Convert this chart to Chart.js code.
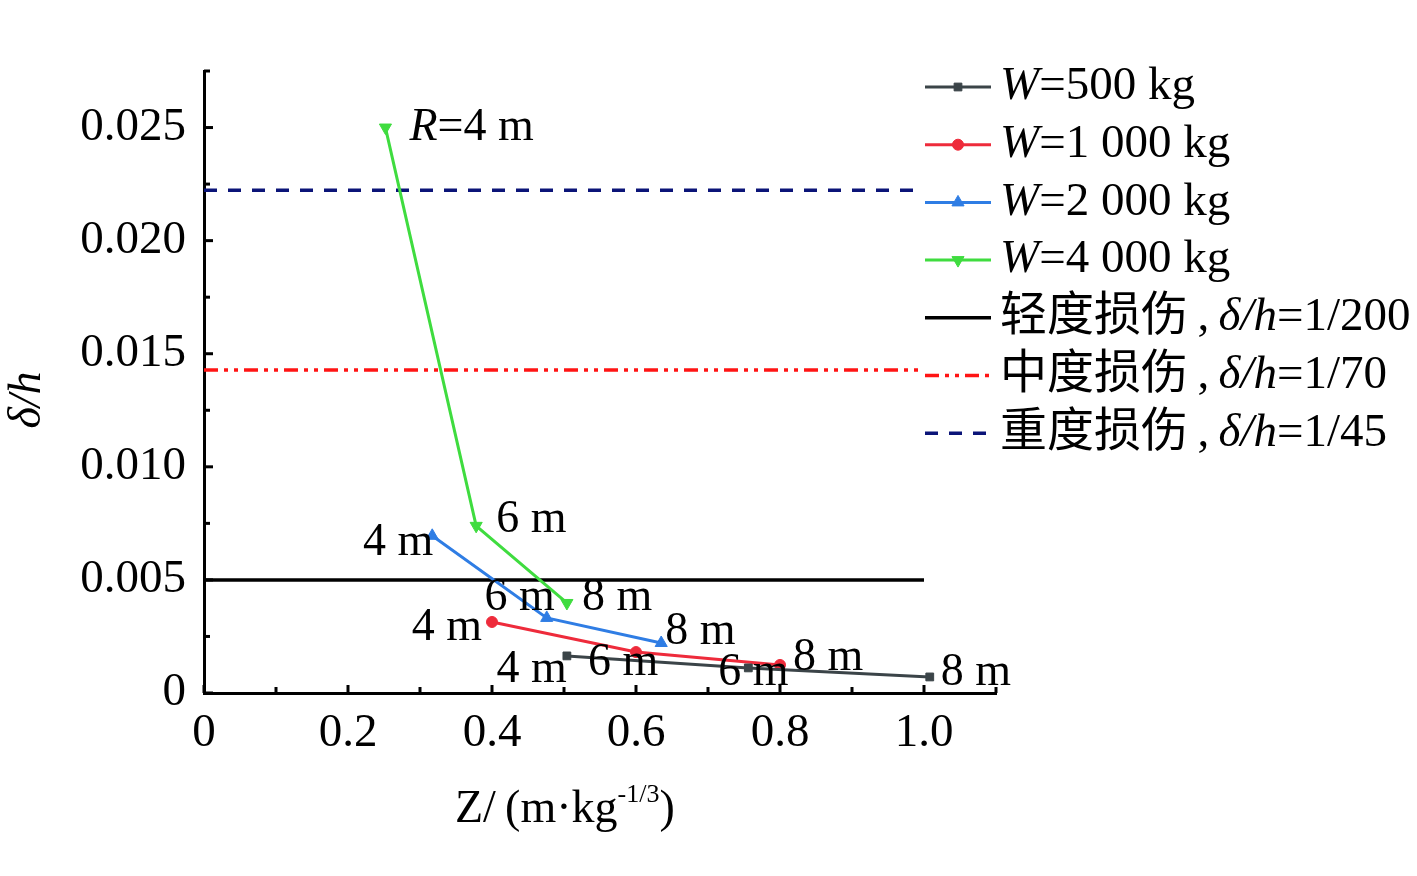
<!DOCTYPE html>
<html>
<head>
<meta charset="utf-8">
<script src="https://cdn.jsdelivr.net/npm/chart.js@4/dist/chart.umd.min.js"></script>
<style>
  body { margin: 0; background: #fff; }
  canvas { display: block; }
</style>
</head>
<body>
<canvas id="chart" width="1417" height="876"></canvas>
<script>
// Données : Z (m·kg^-1/3) et δ/h pour R = 4, 6, 8 m
const z500 = [0.504, 0.756, 1.008];
const d500 = [0.00164, 0.00111, 0.00071];
const z1000 = [0.400, 0.600, 0.800];
const d1000 = [0.00314, 0.00181, 0.00124];
const z2000 = [0.317, 0.476, 0.635];
const d2000 = [0.00695, 0.00332, 0.00221];
const z4000 = [0.252, 0.378, 0.504];
const d4000 = [0.0250, 0.00739, 0.00398];

// Seuils de dommage
const seuilLeger = 1 / 200;
const seuilMoyen = 1 / 70;
const seuilGrave = 1 / 45;
const seuilZ = [0, 1.0];

// Étiquettes des points
const distances = ['4 m', '6 m', '8 m'];
const distances4000 = ['R=4 m', '6 m', '8 m'];

// Graduations
const xTickLabels = ['0', '0.2', '0.4', '0.6', '0.8', '1.0'];
const yTickLabels = ['0', '0.005', '0.010', '0.015', '0.020', '0.025'];

const SERIF = '"Liberation Serif", "Times New Roman", "Noto Sans CJK SC", serif';
const FS = 46;

function pts(xs, ys) {
    return xs.map((x, i) => ({ x: x, y: ys[i] }));
}

// Décalages des étiquettes (dx, dy, alignement) par série
const labelPlacement = [
    [[0, 14, 'right'], [-30, 5, 'left'], [11, -4, 'left']],
    [[-10, 6, 'right'], [-48, 11, 'left'], [13, -7, 'left']],
    [[1, 7, 'right'], [8, -20, 'right'], [4, -11, 'left']],
    [[24, 0, 'left'], [20, -6, 'left'], [15, -5, 'left']]
];
const seriesLabels = [distances, distances, distances, distances4000];

const legendParts = [
    [{ t: 'W', i: true }, { t: '=500 kg' }],
    [{ t: 'W', i: true }, { t: '=1 000 kg' }],
    [{ t: 'W', i: true }, { t: '=2 000 kg' }],
    [{ t: 'W', i: true }, { t: '=4 000 kg' }],
    [{ t: '轻度损伤' }, { t: '\u2009,\u2009' }, { t: 'δ/h', i: true }, { t: '=1/200' }],
    [{ t: '中度损伤' }, { t: '\u2009,\u2009' }, { t: 'δ/h', i: true }, { t: '=1/70' }],
    [{ t: '重度损伤' }, { t: '\u2009,\u2009' }, { t: 'δ/h', i: true }, { t: '=1/45' }]
];

function drawRich(ctx, parts, x, y, size) {
    let cx = x;
    parts.forEach(p => {
        ctx.font = (p.i ? 'italic ' : '') + size + 'px ' + SERIF;
        ctx.fillText(p.t, cx, y);
        cx += ctx.measureText(p.t).width;
    });
    return cx;
}

function drawMarker(ctx, ds, x, y) {
    if (!ds.pointStyle || ds.pointRadius === 0) return;
    ctx.save();
    ctx.fillStyle = ds.borderColor;
    ctx.strokeStyle = ds.borderColor;
    ctx.lineWidth = 1;
    ctx.setLineDash([]);
    Chart.helpers.drawPoint(ctx, {
        pointStyle: ds.pointStyle,
        rotation: ds.pointRotation || 0,
        radius: ds.pointRadius,
        borderWidth: 1
    }, x, y);
    ctx.restore();
}

const customDraw = {
    id: 'customDraw',
    afterDatasetsDraw(chart) {
        const ctx = chart.ctx;
        const xs = chart.scales.x;
        const ys = chart.scales.y;
        const area = chart.chartArea;

        // Graduations intérieures
        ctx.save();
        ctx.strokeStyle = '#000';
        ctx.lineWidth = 3;
        xs.ticks.forEach(t => {
            const px = xs.getPixelForValue(t.value);
            const major = Math.abs(Math.round(t.value / 0.1) % 2) === 0;
            ctx.beginPath();
            ctx.moveTo(px, area.bottom);
            ctx.lineTo(px, area.bottom - (major ? 8 : 6));
            ctx.stroke();
        });
        ys.ticks.forEach(t => {
            const py = ys.getPixelForValue(t.value);
            const major = Math.round(t.value / 0.0025) % 2 === 0;
            ctx.beginPath();
            ctx.moveTo(area.left, py);
            ctx.lineTo(area.left + (major ? 9 : 6), py);
            ctx.stroke();
        });
        ctx.restore();

        // Étiquettes des points
        ctx.save();
        ctx.fillStyle = '#000';
        ctx.textBaseline = 'middle';
        seriesLabels.forEach((labels, i) => {
            const meta = chart.getDatasetMeta(i);
            meta.data.forEach((el, j) => {
                const [dx, dy, align] = labelPlacement[i][j];
                const txt = labels[j];
                if (txt.startsWith('R=')) {
                    drawRich(ctx, [{ t: 'R', i: true }, { t: txt.slice(1) }], el.x + dx, el.y + dy, FS);
                } else {
                    ctx.font = FS + 'px ' + SERIF;
                    ctx.textAlign = align;
                    ctx.fillText(txt, el.x + dx, el.y + dy);
                    ctx.textAlign = 'left';
                }
            });
        });
        ctx.restore();

        // Légende
        ctx.save();
        ctx.textBaseline = 'middle';
        ctx.fillStyle = '#000';
        chart.data.datasets.forEach((ds, i) => {
            const y = 87 + i * 57.7;
            ctx.save();
            ctx.strokeStyle = ds.borderColor;
            ctx.lineWidth = ds.borderWidth;
            ctx.setLineDash(ds.borderDash || []);
            ctx.beginPath();
            ctx.moveTo(925, y);
            ctx.lineTo(991, y);
            ctx.stroke();
            ctx.restore();
            drawMarker(ctx, ds, 958, y);
            drawRich(ctx, legendParts[i], 1000, y, 47);
        });
        ctx.restore();

        // Titres des axes
        ctx.save();
        ctx.fillStyle = '#000';
        ctx.textBaseline = 'alphabetic';
        let cx = 455;
        const base = 822;
        ctx.font = FS + 'px ' + SERIF;
        ctx.fillText('Z/\u2009(m·kg', cx, base);
        cx += ctx.measureText('Z/\u2009(m·kg').width;
        ctx.font = '26px ' + SERIF;
        ctx.fillText('-1/3', cx, base - 20);
        cx += ctx.measureText('-1/3').width;
        ctx.font = FS + 'px ' + SERIF;
        ctx.fillText(')', cx, base);

        ctx.translate(28, 400);
        ctx.rotate(-Math.PI / 2);
        ctx.textAlign = 'center';
        ctx.textBaseline = 'middle';
        ctx.font = 'italic ' + FS + 'px ' + SERIF;
        ctx.fillText('δ/h', 0, 0);
        ctx.restore();
    }
};

function serie(data, color, style, rotation, radius) {
    return {
        data: data,
        borderColor: color,
        backgroundColor: color,
        borderWidth: 3,
        pointStyle: style,
        pointRotation: rotation,
        pointRadius: radius,
        pointHoverRadius: radius,
        pointBorderWidth: 1,
        showLine: true,
        tension: 0
    };
}

function seuil(value, color, dash, width) {
    return {
        data: pts(seuilZ, [value, value]),
        borderColor: color,
        backgroundColor: color,
        borderWidth: width,
        borderDash: dash,
        pointRadius: 0,
        pointStyle: false,
        showLine: true
    };
}

new Chart(document.getElementById('chart'), {
    type: 'scatter',
    data: {
        datasets: [
            serie(pts(z500, d500), '#3b4448', 'rect', 0, 5.5),
            serie(pts(z1000, d1000), '#ee2b3b', 'circle', 0, 5.5),
            serie(pts(z2000, d2000), '#2f7de4', 'triangle', 0, 7),
            serie(pts(z4000, d4000), '#3fdc3f', 'triangle', 180, 7),
            seuil(seuilLeger, '#000000', [], 3.5),
            seuil(seuilMoyen, '#ff1414', [14, 6, 4, 6, 4, 6], 3.5),
            seuil(seuilGrave, '#0b1478', [13, 11], 3.5)
        ]
    },
    options: {
        responsive: false,
        devicePixelRatio: 1,
        animation: false,
        layout: { padding: { left: 0, right: 421, top: 71, bottom: 0 } },
        plugins: {
            legend: { display: false },
            tooltip: { enabled: false }
        },
        scales: {
            x: {
                type: 'linear',
                min: 0,
                max: 1.1,
                grid: { display: false, drawTicks: false },
                border: { display: true, color: '#000', width: 3 },
                afterFit: scale => { scale.height = 876 - 693; },
                ticks: {
                    stepSize: 0.1,
                    includeBounds: false,
                    padding: 12,
                    color: '#000',
                    font: { family: SERIF, size: 47 },
                    maxRotation: 0,
                    autoSkip: false,
                    callback: v => {
                        const k = Math.round(v / 0.1);
                        return k % 2 === 0 ? xTickLabels[k / 2] : '';
                    }
                }
            },
            y: {
                type: 'linear',
                min: 0,
                max: 0.0275,
                grid: { display: false, drawTicks: false },
                border: { display: true, color: '#000', width: 3 },
                afterFit: scale => { scale.width = 204; },
                ticks: {
                    stepSize: 0.0025,
                    includeBounds: false,
                    padding: 18,
                    color: '#000',
                    font: { family: SERIF, size: 47 },
                    autoSkip: false,
                    callback: v => {
                        const k = Math.round(v / 0.0025);
                        return k % 2 === 0 ? yTickLabels[k / 2] : '';
                    }
                }
            }
        }
    },
    plugins: [customDraw]
});
</script>
</body>
</html>
